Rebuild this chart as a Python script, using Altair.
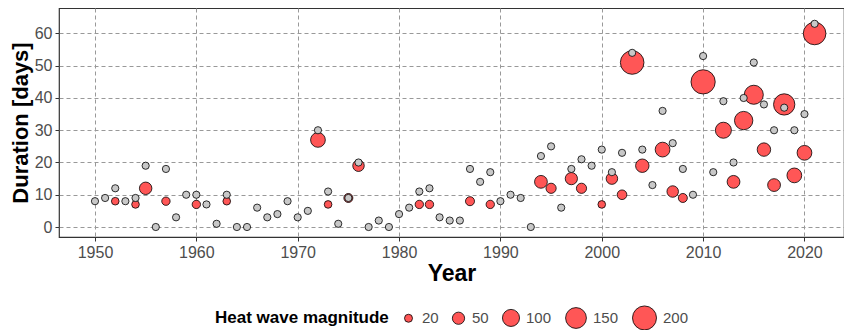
import altair as alt
import pandas as pd

# Duration of the longest heat wave per year (grey points)
years = list(range(1950, 2022))
duration = [8, 9, 12, 8, 9, 19, 0, 18, 3, 10,
            10, 7, 1, 10, 0, 0, 6, 3, 4, 8,
            3, 5, 30, 11, 1, 9, 20, 0, 2, 0,
            4, 6, 11, 12, 3, 2, 2, 18, 14, 17,
            8, 10, 9, 0, 22, 25, 6, 18, 21, 19,
            24, 17, 23, 54, 24, 13, 36, 26, 18, 10,
            53, 17, 39, 20, 40, 51, 38, 30, 37, 30,
            35, 63]

# Heat waves shown as red circles sized by magnitude
hw_years = [1952, 1954, 1955, 1957, 1960, 1963, 1972, 1973, 1975, 1976,
            1982, 1983, 1987, 1989, 1994, 1995, 1997, 1998, 2000, 2001,
            2002, 2003, 2004, 2006, 2007, 2008, 2010, 2012, 2013, 2014,
            2015, 2016, 2017, 2018, 2019, 2020, 2021]
hw_duration = [8, 7, 12, 8, 7, 8, 27, 7, 9, 19,
               7, 7, 8, 7, 14, 12, 15, 12, 7, 15,
               10, 51, 19, 24, 11, 9, 45, 30, 14, 33,
               41, 24, 13, 38, 16, 23, 60]
hw_magnitude = [18, 18, 52, 22, 22, 18, 74, 18, 26, 44,
                22, 22, 26, 22, 55, 34, 50, 34, 18, 44,
                30, 193, 61, 74, 44, 26, 204, 88, 55, 116,
                125, 61, 55, 157, 74, 74, 177]

legend_values = [20, 50, 100, 150, 200]
x_ticks = [1950, 1960, 1970, 1980, 1990, 2000, 2010, 2020]
y_ticks = [0, 10, 20, 30, 40, 50, 60]

df_all = pd.DataFrame({"Year": years, "Duration": duration})
df_hw = pd.DataFrame({"Year": hw_years, "Duration": hw_duration,
                      "Magnitude": hw_magnitude})

FONT = "Liberation Sans"
RED = "#FF5656"
GREY = "#C8C8C8"
LABEL = "#4D4D4D"

x_enc = alt.X("Year:Q",
              scale=alt.Scale(domain=[1946.45, 2023.9], nice=False, zero=False),
              axis=alt.Axis(values=x_ticks, title="Year", format="d",
                            titleFontSize=23, titlePadding=2))
y_enc = alt.Y("Duration:Q",
              scale=alt.Scale(domain=[-3.1, 67.9], nice=False, zero=False),
              axis=alt.Axis(values=y_ticks, title="Duration [days]",
                            titleFontSize=22, titlePadding=2))

red = alt.Chart(df_hw).mark_point(filled=True, opacity=1).encode(
    x=x_enc,
    y=y_enc,
    fill=alt.value(RED),
    stroke=alt.value("black"),
    strokeWidth=alt.value(0.8),
    size=alt.Size("Magnitude:Q",
                  scale=alt.Scale(domain=[20, 200], range=[64, 576], zero=False),
                  legend=alt.Legend(
                      title="Heat wave magnitude", values=legend_values,
                      orient="none", direction="horizontal",
                      legendX=156, legendY=297,
                      titleOrient="left", titleFontSize=17, titleFontWeight="bold",
                      titleColor="black", titleFont=FONT, titlePadding=12,
                      labelFontSize=15, labelColor=LABEL, labelFont=FONT,
                      labelOffset=6, columnPadding=11,
                      symbolOpacity=1, symbolStrokeWidth=0.8,
                  )),
)

grey = alt.Chart(df_all).mark_point(filled=True, opacity=1).encode(
    x=x_enc, y=y_enc,
    fill=alt.value(GREY),
    stroke=alt.value("black"),
    strokeWidth=alt.value(0.8),
    size=alt.value(52),
)

chart = alt.layer(red, grey).properties(
    width=785, height=229,
    autosize=alt.AutoSizeParams(type="none"),
    padding={"left": 51, "top": 0, "right": 0, "bottom": 93},
).configure_view(
    stroke="#333333", strokeWidth=1.2
).configure_axis(
    domain=False,
    grid=True, gridColor="#999999", gridDash=[4, 3], gridWidth=1,
    ticks=True, tickColor="#333333", tickSize=4, tickWidth=1,
    labelFont=FONT, labelFontSize=16, labelColor=LABEL, labelPadding=3,
    titleFont=FONT, titleFontWeight="bold", titleColor="black",
)

chart.save("out.html", embed_options={"renderer": "svg", "actions": False})
